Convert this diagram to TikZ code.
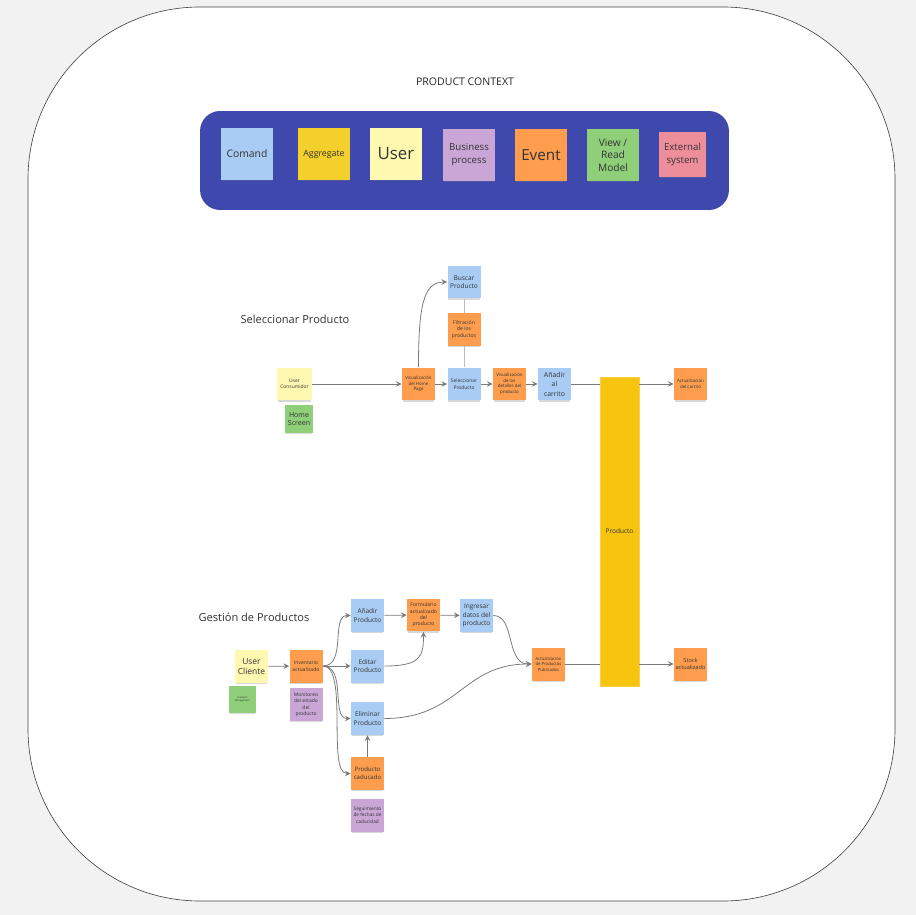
\documentclass[tikz,border=0pt]{standalone}
\usepackage{xcolor}
\usepackage{fontspec}
\setmainfont{Open Sans}
\usepackage{tikz}
\usetikzlibrary{arrows, positioning, shadows, calc}

\definecolor{bggray}{HTML}{F2F2F2}
\definecolor{panelblue}{HTML}{3F48AD}
\definecolor{cmdblue}{HTML}{A8CCF4}
\definecolor{aggyellow}{HTML}{F4D02C}
\definecolor{usryellow}{HTML}{FFF8B0}
\definecolor{procpurple}{HTML}{C9A6D6}
\definecolor{evtorange}{HTML}{FD9D4D}
\definecolor{viewgreen}{HTML}{8FCF7A}
\definecolor{extpink}{HTML}{EE8E9B}
\definecolor{bargold}{HTML}{F7C510}
\definecolor{linegray}{HTML}{7A7A7A}
\definecolor{textgray}{HTML}{333333}

\begin{document}
\begin{tikzpicture}[
    x=0.02cm, y=-0.02cm,
    note/.style={rectangle, minimum width=0.66cm, minimum height=0.66cm, inner sep=0.5pt, align=center, text=textgray,
        drop shadow={shadow xshift=0pt, shadow yshift=-1.1pt, shadow scale=0.96, opacity=0.3}},
    key/.style={minimum width=1.04cm, minimum height=1.04cm},
    cmd/.style={note, fill=cmdblue},
    agg/.style={note, fill=aggyellow},
    usr/.style={note, fill=usryellow},
    proc/.style={note, fill=procpurple},
    evt/.style={note, fill=evtorange},
    view/.style={note, fill=viewgreen},
    ext/.style={note, fill=extpink},
    fxs/.style={font=\fontsize{1.4}{1.8}\selectfont},
    fs/.style={font=\fontsize{2.5}{3.2}\selectfont},
    fm/.style={font=\fontsize{2.9}{3.6}\selectfont},
    fl/.style={font=\fontsize{3.7}{4.7}\selectfont},
    heading/.style={font=\fontsize{6.3}{7.5}\selectfont, text=textgray},
    arrow/.style={->, >=stealth, draw=linegray, line width=0.45pt},
    link/.style={draw=linegray, line width=0.45pt}
]

\useasboundingbox (0,0) rectangle (916,915);
\fill[bggray] (0,0) rectangle (916,915);
\draw[fill=white, draw=black!75, line width=0.35pt, rounded corners=3.44cm] (28,7) rectangle (895,901);

\node[font=\fontsize{6}{7}\selectfont, text=black!85] (title) at (465,82) {PRODUCT CONTEXT};
\node[fill=panelblue, rounded corners=0.4cm, minimum width=10.58cm, minimum height=1.98cm] (legend) at (464.5,160.5) {};

\node[cmd, key, font=\fontsize{5.9}{7}\selectfont] (kcmd) at (247,154) {Comand};
\node[agg, key, font=\fontsize{5}{6}\selectfont] (kagg) at (324,154) {Aggregate};
\node[usr, key, font=\fontsize{9.6}{11}\selectfont] (kusr) at (396,154) {User};
\node[proc, key, font=\fontsize{5.5}{7.4}\selectfont] (kproc) at (469,155) {Business\\process};
\node[evt, key, font=\fontsize{8.7}{10}\selectfont] (kevt) at (541,155) {Event};
\node[view, key, font=\fontsize{5.8}{7.2}\selectfont] (kview) at (613,155) {View /\\Read\\Model};
\node[ext, minimum width=0.94cm, minimum height=0.9cm, font=\fontsize{5.5}{7.4}\selectfont] (kext) at (682.5,154.5) {External\\system};

\node[heading] (hsel) at (295,319) {Seleccionar Producto};
\node[usr, minimum width=0.7cm, font=\fontsize{2.8}{3.6}\selectfont] (ucon) at (294.5,384) {User\\Consumidor};
\node[view, minimum width=0.56cm, minimum height=0.56cm, font=\fontsize{4}{5}\selectfont] (home) at (299,419) {Home\\Screen};
\node[evt, fs] (vhome) at (418.5,384) {Visualización\\del Home\\Page};
\node[cmd, fl] (busc) at (464,282) {Buscar\\Producto};
\node[evt, fm] (filt) at (464,329.5) {Filtración\\de los\\productos};
\node[cmd, font=\fontsize{2.8}{3.6}\selectfont] (selp) at (464,384) {Seleccionar\\Producto};
\node[evt, fs] (vdet) at (509.5,384) {Visualización\\de los\\detalles del\\producto};
\node[cmd, font=\fontsize{3.9}{5.4}\selectfont] (addc) at (554.5,384) {Añadir\\al\\carrito};
\node[fill=bargold, draw=bargold!80!white, line width=0.3pt, minimum width=0.74cm, minimum height=6.18cm, text=textgray, fl] (prod) at (619.5,531.5) {Producto};
\node[evt, fs] (cart) at (690.5,384) {Actualización\\del carrito};

\draw[arrow] (ucon) -- (vhome);
\draw[arrow] (vhome) -- (selp);
\draw[arrow] (vhome.north) .. controls +(0,-60) and +(-24,0) .. (busc.west);
\draw[link, draw=linegray!50] (busc) -- (filt);
\draw[link, draw=linegray!50] (filt) -- (selp);
\draw[arrow] (selp) -- (vdet);
\draw[arrow] (vdet) -- (addc);
\draw[link] (addc.east) -- (addc.east -| prod.west);
\draw[arrow] (prod.east |- cart.west) -- (cart.west);

\node[heading] (hgest) at (254,617) {Gestión de Productos};
\node[usr, font=\fontsize{4.8}{6}\selectfont] (ucli) at (251.5,666.5) {User\\Cliente};
\node[view, minimum width=0.54cm, minimum height=0.54cm, fxs] (pman) at (242.5,699.5) {Products\\Management};
\node[evt, fm] (inv) at (306,666) {Inventario\\actualizado};
\node[proc, font=\fontsize{2.8}{3.6}\selectfont, below=0.1cm of inv] (mon) {Monitoreo\\del estado\\del\\producto};
\node[cmd, fl] (addp) at (367.5,615.5) {Añadir\\Producto};
\node[cmd, fl] (edit) at (367.5,666) {Editar\\Producto};
\node[cmd, fl] (elim) at (367.5,718.5) {Eliminar\\Producto};
\node[evt, font=\fontsize{3.45}{4.4}\selectfont] (cad) at (367.5,773.5) {Producto\\caducado};
\node[proc, font=\fontsize{2.7}{3.5}\selectfont, below=0.16cm of cad] (seg) {Seguimiento\\de fechas de\\caducidad};
\node[evt, fm] (form) at (423.5,615) {Formulario\\actualizado\\del\\producto};
\node[cmd, fl] (ing) at (476.5,615.5) {Ingresar\\datos del\\producto};
\node[evt, font=\fontsize{2.4}{3.1}\selectfont] (apub) at (548.5,664) {Actualización\\de Productos\\Publicados};
\node[evt, font=\fontsize{3.2}{4}\selectfont] (stock) at (690.5,664) {Stock\\actualizado};

\draw[arrow] (ucli) -- (inv);
\draw[arrow] (inv.east) .. controls +(24,0) and +(-20,0) .. (addp.west);
\draw[arrow] (inv) -- (edit);
\draw[arrow] (inv.east) .. controls +(24,0) and +(-20,0) .. (elim.west);
\draw[arrow] (inv.east) .. controls +(26,0) and +(-24,0) .. (cad.west);
\draw[arrow] (cad) -- (elim);
\draw[arrow] (addp) -- (form);
\draw[arrow] (edit.east) .. controls +(36,0) and +(0,25) .. (form.south);
\draw[arrow] (form) -- (ing);
\draw[arrow] (ing.east) .. controls +(22,0) and +(-26,0) .. (apub.west);
\draw[arrow] (elim.east) .. controls +(75,0) and +(-70,0) .. (apub.west);
\draw[link] (apub.east) -- (apub.east -| prod.west);
\draw[arrow] (prod.east |- stock.west) -- (stock.west);

\end{tikzpicture}
\end{document}
